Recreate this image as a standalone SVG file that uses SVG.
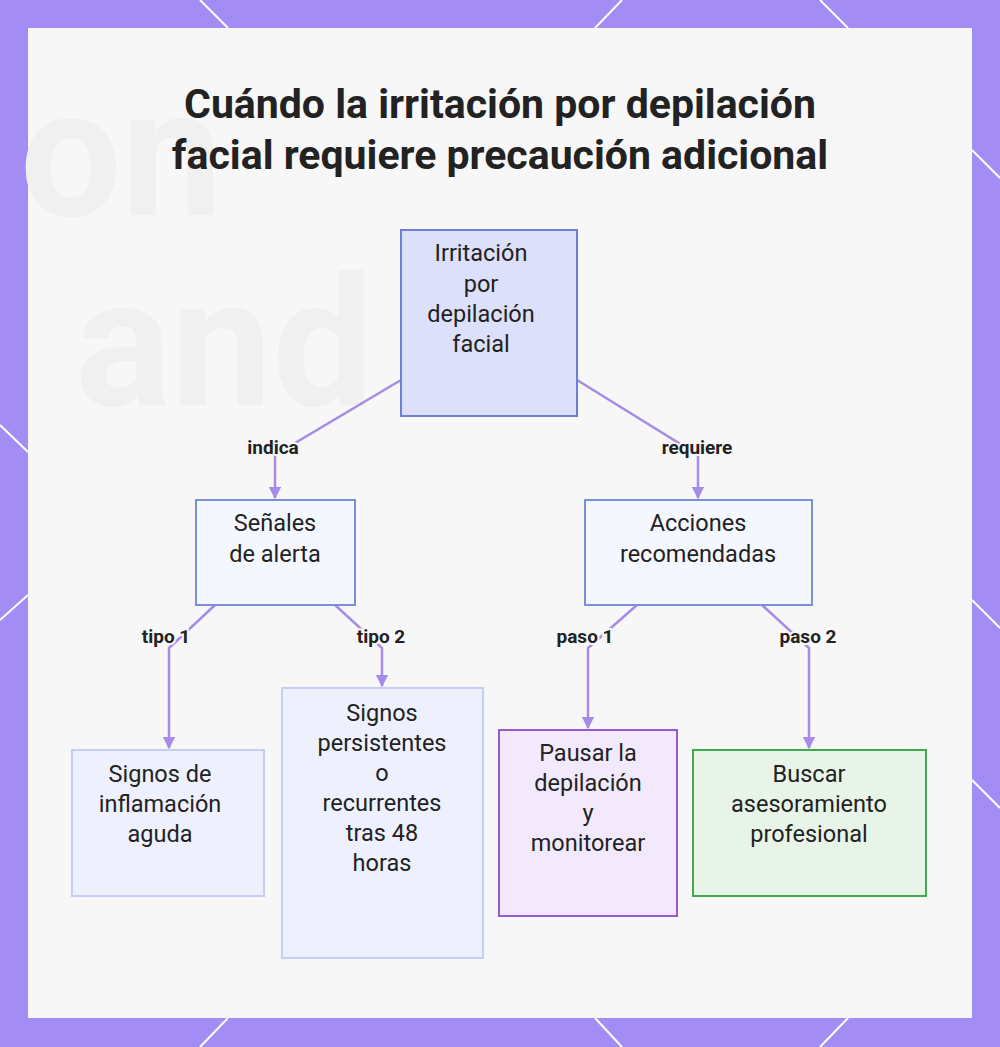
<svg xmlns="http://www.w3.org/2000/svg" width="1000" height="1047" viewBox="0 0 1000 1047">
<defs>
<style>
.t{font-family:Roboto,"Liberation Sans",sans-serif;font-size:23.5px;fill:#222;text-anchor:middle}
.l{font-family:Roboto,"Liberation Sans",sans-serif;font-size:19px;font-weight:bold;fill:#222;text-anchor:middle;paint-order:stroke;stroke:#f7f7f8;stroke-width:4}
.c{fill:none;stroke:#a78be8;stroke-width:2.5}
.b{stroke:#fff;stroke-width:2}
</style>
<marker id="a" viewBox="0 0 10 10" refX="9" refY="5" markerWidth="5" markerHeight="5" orient="auto"><path d="M0,0L10,5L0,10z" fill="#a78be8"/></marker>
</defs>
<rect width="1000" height="1047" fill="#a48cf5"/>
<g class="b">
<line x1="200" y1="0" x2="228" y2="28"/><line x1="595" y1="28" x2="622" y2="0"/><line x1="820" y1="0" x2="848" y2="28"/>
<line x1="0" y1="425" x2="28" y2="452"/><line x1="0" y1="620" x2="28" y2="595"/>
<line x1="972" y1="150" x2="1000" y2="178"/><line x1="972" y1="600" x2="1000" y2="628"/><line x1="972" y1="780" x2="1000" y2="808"/>
<line x1="200" y1="1047" x2="228" y2="1018"/><line x1="595" y1="1018" x2="622" y2="1047"/><line x1="820" y1="1047" x2="848" y2="1018"/>
</g>
<rect x="28" y="28" width="944" height="990" fill="#f7f7f8"/>
<text x="20" y="215" font-family="Roboto,sans-serif" font-size="180" font-weight="bold" fill="#f0f0f1">on</text>
<text x="75" y="405" font-family="Roboto,sans-serif" font-size="180" font-weight="bold" fill="#f0f0f1">and</text>
<text x="500" y="118" class="t" style="font-size:41px;font-weight:bold">Cuándo la irritación por depilación</text>
<text x="500" y="169" class="t" style="font-size:41px;font-weight:bold">facial requiere precaución adicional</text>
<g id="connectors">
<path class="c" d="M401,380L275,455V498" marker-end="url(#a)"/>
<path class="c" d="M577,380L698,455V498" marker-end="url(#a)"/>
<path class="c" d="M215,605L169,648V748" marker-end="url(#a)"/>
<path class="c" d="M335,605L382,648V686" marker-end="url(#a)"/>
<path class="c" d="M637,605L588,648V728" marker-end="url(#a)"/>
<path class="c" d="M762,605L809,648V748" marker-end="url(#a)"/>
<text class="l" x="273" y="454">indica</text>
<text class="l" x="697" y="454">requiere</text>
<text class="l" x="166" y="643">tipo 1</text>
<text class="l" x="381" y="643">tipo 2</text>
<text class="l" x="585" y="643">paso 1</text>
<text class="l" x="808" y="643">paso 2</text>
</g>
<g id="root"><rect x="401" y="230" width="176" height="186" fill="#dde0fb" stroke="#6f7fd6" stroke-width="2"/>
<text class="t" x="481" y="261">Irritación</text><text class="t" x="481" y="292">por</text><text class="t" x="481" y="322">depilación</text><text class="t" x="481" y="352">facial</text></g>
<g id="senales"><rect x="196" y="500" width="159" height="105" fill="#f5f7ff" stroke="#7b90dd" stroke-width="2"/>
<text class="t" x="275" y="531">Señales</text><text class="t" x="275" y="562">de alerta</text></g>
<g id="acciones"><rect x="585" y="500" width="227" height="105" fill="#f5f7ff" stroke="#7b90dd" stroke-width="2"/>
<text class="t" x="698" y="531">Acciones</text><text class="t" x="698" y="562">recomendadas</text></g>
<g id="inflamacion"><rect x="72" y="750" width="192" height="146" fill="#eef1fd" stroke="#c5cdf3" stroke-width="2"/>
<text class="t" x="160" y="782">Signos de</text><text class="t" x="160" y="812">inflamación</text><text class="t" x="160" y="842">aguda</text></g>
<g id="persistentes"><rect x="282" y="688" width="201" height="270" fill="#eef1fd" stroke="#c5cdf3" stroke-width="2"/>
<text class="t" x="382" y="721">Signos</text><text class="t" x="382" y="751">persistentes</text><text class="t" x="382" y="781">o</text><text class="t" x="382" y="811">recurrentes</text><text class="t" x="382" y="841">tras 48</text><text class="t" x="382" y="871">horas</text></g>
<g id="pausar"><rect x="499" y="730" width="178" height="186" fill="#f3e9fd" stroke="#9b59d0" stroke-width="2"/>
<text class="t" x="588" y="761">Pausar la</text><text class="t" x="588" y="791">depilación</text><text class="t" x="588" y="821">y</text><text class="t" x="588" y="851">monitorear</text></g>
<g id="buscar"><rect x="693" y="750" width="233" height="146" fill="#e8f4e8" stroke="#3faa50" stroke-width="2"/>
<text class="t" x="809" y="782">Buscar</text><text class="t" x="809" y="812">asesoramiento</text><text class="t" x="809" y="842">profesional</text></g>
</svg>
